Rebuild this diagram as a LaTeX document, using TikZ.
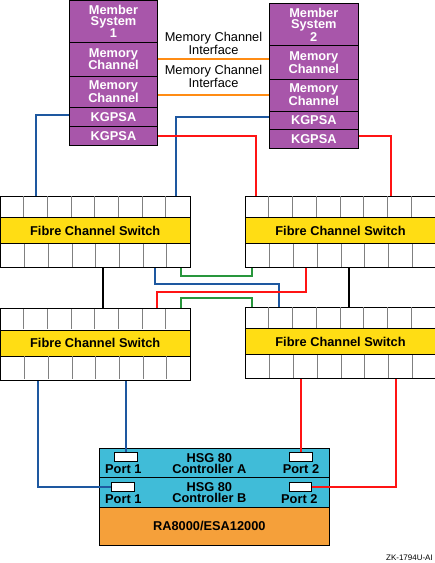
\documentclass[tikz,border=0pt]{standalone}
\usepackage{fontspec}
\setmainfont{Liberation Sans}
\definecolor{sysviolet}{RGB}{168,86,170}
\definecolor{fcyellow}{RGB}{255,221,20}
\definecolor{hsgcyan}{RGB}{64,188,216}
\definecolor{raorange}{RGB}{245,160,58}
\definecolor{mcorange}{RGB}{255,140,20}
\definecolor{fcblue}{RGB}{30,88,160}
\definecolor{fcred}{RGB}{255,20,20}
\definecolor{fcgreen}{RGB}{40,150,60}

\begin{document}
\begin{tikzpicture}[x = 1pt, y = -1pt,
		lbl/.style = {font = \fontsize{12.8}{11.5}\selectfont\bfseries, align = center, inner sep = 0pt},
		mci/.style = {font = \fontsize{12.8}{11}\selectfont, align = center, inner sep = 0pt},
		unit/.style = {lbl, draw, line width = 0.9pt, fill = sysviolet, text = white},
		band/.style = {lbl, draw, line width = 0.9pt, fill = fcyellow, minimum width = 189.5pt, minimum height = 26pt, anchor = north west},
		portrow/.style = {draw, line width = 0.9pt, minimum width = 189.5pt, inner sep = 0pt, anchor = north west},
		cellline/.style = {gray, line width = 1pt},
		port/.style = {draw, line width = 0.9pt, fill = white, minimum width = 22.7pt, minimum height = 9pt, inner sep = 0pt},
		ctrl/.style = {draw, line width = 0.9pt, fill = hsgcyan, minimum width = 230pt, inner sep = 0pt},
		mcline/.style = {mcorange, line width = 2pt},
		fibre/.style = {line width = 2pt}]
		\useasboundingbox (0, 0) rectangle (435, 563);

		\node (s1head) at (113.5, 21.15) [unit, minimum width = 88.4pt, minimum height = 42.3pt] {Member\\System\\1};
		\node (s1mc1) at (113.5, 59.15) [unit, minimum width = 88.4pt, minimum height = 33.7pt] {Memory\\Channel};
		\node (s1mc2) at (113.5, 91.85) [unit, minimum width = 88.4pt, minimum height = 31.7pt] {Memory\\Channel};
		\node (s1kg1) at (113.5, 116.85) [unit, minimum width = 88.4pt, minimum height = 18.3pt] {KGPSA};
		\node (s1kg2) at (113.5, 135.85) [unit, minimum width = 88.4pt, minimum height = 19.7pt] {KGPSA};

		\node (s2head) at (313.8, 24.5) [unit, minimum width = 89pt, minimum height = 42.4pt] {Member\\System\\2};
		\node (s2mc1) at (313.8, 62.35) [unit, minimum width = 89pt, minimum height = 33.3pt] {Memory\\Channel};
		\node (s2mc2) at (313.8, 95) [unit, minimum width = 89pt, minimum height = 32pt] {Memory\\Channel};
		\node (s2kg1) at (313.8, 120.15) [unit, minimum width = 89pt, minimum height = 18.3pt] {KGPSA};
		\node (s2kg2) at (313.8, 139) [unit, minimum width = 89pt, minimum height = 19.4pt] {KGPSA};

		\draw [mcline] (s1mc1.east) -- (s1mc1.east -| s2mc1.west);
		\draw [mcline] (s1mc2.east |- s2mc2.west) -- (s2mc2.west);
		\node (mci1) at (213.5, 43) [mci] {Memory Channel\\Interface};
		\node (mci2) at (213.5, 76.5) [mci] {Memory Channel\\Interface};

		\foreach \sw/\x/\y in {swA/0/195.7, swB/245.3/195.7, swC/0/308.3, swD/245.3/306.7} {
			\node (\sw-t) at (\x, \y) [portrow, minimum height = 21.6pt] {};
			\node (\sw) at (\x, \y + 21.6) [band] {Fibre Channel Switch};
			\node (\sw-b) at (\x, \y + 47.6) [portrow, minimum height = 24pt] {};
			\foreach \i in {1, ..., 7} {
				\draw [cellline] (\x + \i * 23.69, \y + 0.5) -- ++(0, 20.6);
				\draw [cellline] (\x + \i * 23.69 + 1, \y + 48.1) -- ++(0, 23);
			}
		}

		\draw [fibre, fcblue] ([yshift = 2pt]s1kg1.west) -| (36, 0 |- swA-t.north);
		\draw [fibre, fcblue] ([yshift = 3.5pt]s2kg1.west) -| (176, 0 |- swA-t.north);
		\draw [fibre, fcred] (s1kg2.east) -| (256, 0 |- swB-t.north);
		\draw [fibre, fcred] ([yshift = 3pt]s2kg2.east) -| (390.7, 0 |- swB-t.north);

		\draw [fibre, black] (102.7, 0 |- swA-b.south) -- (102.7, 0 |- swC-t.north);
		\draw [fibre, black] (349, 0 |- swB-b.south) -- (349, 0 |- swD-t.north);
		\draw [fibre, fcgreen] (181, 0 |- swA-b.south) -- (181, 275.7) -| (252.3, 0 |- swB-b.south);
		\draw [fibre, fcblue] (155.3, 0 |- swA-b.south) -- (155.3, 284) -| (279, 0 |- swD-t.north);
		\draw [fibre, fcred] (306, 0 |- swB-b.south) -- (306, 291.7) -| (157, 0 |- swC-t.north);
		\draw [fibre, fcgreen] (181, 0 |- swC-t.north) -- (181, 298.3) -| (252.3, 0 |- swD-t.north);

		\node (ctrlA) at (214.3, 463) [ctrl, minimum height = 29.4pt] {};
		\node (ctrlB) at (214.3, 492.5) [ctrl, minimum height = 29.6pt] {};
		\node (store) at (214.3, 526.15) [ctrl, fill = raorange, minimum height = 37.7pt] {};
		\node (hsgA) at (209.3, 463.5) [lbl] {HSG 80\\Controller A};
		\node (hsgB) at (209.3, 492.7) [lbl] {HSG 80\\Controller B};
		\node (ranm) at (209.3, 525.7) [lbl] {RA8000/ESA12000};

		\node (a1) at (125.65, 457.2) [port] {};
		\node (a2) at (300.65, 457.2) [port] {};
		\node (b1) at (122.65, 486.5) [port] {};
		\node (b2) at (300.5, 486.5) [port] {};
		\node (a1lbl) at (123.3, 469.2) [lbl] {Port 1};
		\node (a2lbl) at (301, 469.2) [lbl] {Port 2};
		\node (b1lbl) at (123.3, 498.7) [lbl] {Port 1};
		\node (b2lbl) at (299.3, 498.7) [lbl] {Port 2};

		\draw [fibre, fcblue] (37.7, 0 |- swC-b.south) |- (b1.west);
		\draw [fibre, fcblue] (a1.north |- swC-b.south) -- (a1.north);
		\draw [fibre, fcred] (a2.north |- swD-b.south) -- (a2.north);
		\draw [fibre, fcred] (396, 0 |- swD-b.south) |- (b2.east);

		\node (figid) at (433, 558) [anchor = east, inner sep = 0pt, font = \fontsize{8}{8}\selectfont] {ZK-1794U-AI};
	\end{tikzpicture}
\end{document}
